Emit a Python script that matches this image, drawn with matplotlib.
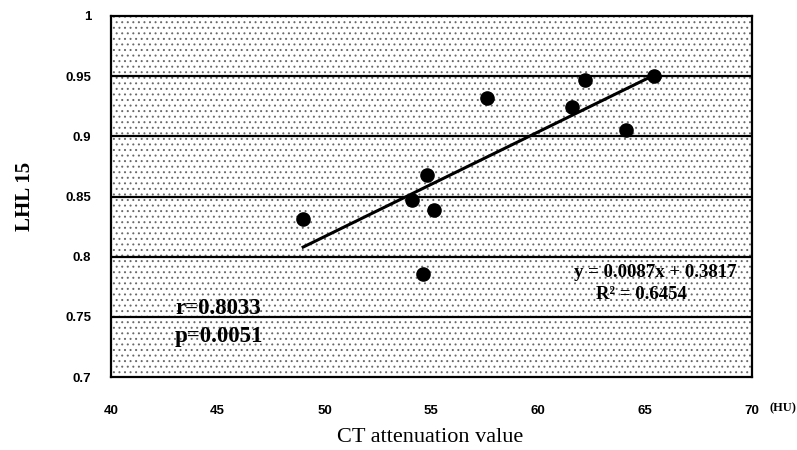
import matplotlib.pyplot as plt
from matplotlib.patches import Rectangle

# data
ct_hu = [49.0, 54.1, 54.8, 55.1, 54.6, 57.6, 61.6, 62.2, 64.1, 65.4]
lhl15 = [0.831, 0.847, 0.868, 0.839, 0.786, 0.932, 0.924, 0.947, 0.905, 0.950]
slope, intercept = 0.0087, 0.3817
fit_x = [49.0, 65.4]
y_ticks = [0.7, 0.75, 0.8, 0.85, 0.9, 0.95, 1.0]
y_tick_labels = ['0.7', '0.75', '0.8', '0.85', '0.9', '0.95', '1']
x_ticks = [40, 45, 50, 55, 60, 65, 70]

plt.rcParams['hatch.linewidth'] = 0.7
plt.rcParams['hatch.color'] = '#6a6a6a'

fig = plt.figure(figsize=(7.97, 4.5), dpi=100)
ax = fig.add_axes([0.139, 0.162, 0.8045, 0.8025])

# speckled plot background
ax.add_patch(Rectangle((0, 0), 1, 1, transform=ax.transAxes, facecolor='white',
                       hatch='...', edgecolor='#6a6a6a', linewidth=0, zorder=0))

for yv in y_ticks[1:-1]:
    ax.axhline(yv, color='black', lw=1.6, zorder=1)

ax.plot(fit_x, [slope * v + intercept for v in fit_x], color='black', lw=2.2, zorder=2)
ax.scatter(ct_hu, lhl15, s=90, color='black', zorder=3)

ax.set_xlim(40, 70)
ax.set_ylim(0.7, 1.0)
ax.set_xticks(x_ticks)
ax.set_yticks(y_ticks)
ax.set_yticklabels(y_tick_labels)
ax.tick_params(length=0)
ax.tick_params(axis='x', pad=20)
ax.tick_params(axis='y', pad=14)
for lab in ax.get_xticklabels() + ax.get_yticklabels():
    lab.set_fontfamily('Liberation Sans')
    lab.set_fontweight('bold')
    lab.set_fontsize(9.5)
for sp in ax.spines.values():
    sp.set_linewidth(1.6)

ax.set_ylabel('LHL 15', family='Liberation Serif', fontweight='bold', fontsize=15, labelpad=22)
fig.text(0.54, 0.027, 'CT attenuation value', family='Liberation Serif', fontsize=16,
         ha='center', va='center')
fig.text(0.982, 0.093, '(HU)', family='Liberation Serif', fontsize=9, fontweight='bold',
         ha='center', va='center')

ax.text(43.0, 0.757, 'r=0.8033', family='Liberation Serif', fontweight='bold', fontsize=16.5,
        va='center', ha='left', zorder=4)
ax.text(43.0, 0.734, 'p=0.0051', family='Liberation Serif', fontweight='bold', fontsize=16.5,
        va='center', ha='left', zorder=4)
ax.text(69.3, 0.787, 'y = 0.0087x + 0.3817', family='Liberation Serif', fontweight='bold',
        fontsize=13.5, va='center', ha='right', zorder=4)
ax.text(66.96, 0.769, 'R\u00b2 = 0.6454', family='Liberation Serif', fontweight='bold',
        fontsize=13.5, va='center', ha='right', zorder=4)

fig.savefig('out.png', dpi=100)
